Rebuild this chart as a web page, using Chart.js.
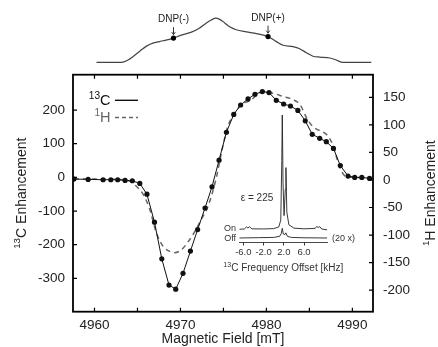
<!DOCTYPE html>
<html>
<head>
<meta charset="utf-8">
<script src="https://cdn.jsdelivr.net/npm/chart.js@4.4.0/dist/chart.umd.min.js"></script>
<style>
  html, body { margin: 0; padding: 0; background: #fff; }
  #wrap { position: relative; width: 438px; height: 347px; }
  canvas { position: absolute; }
</style>
</head>
<body>
<div id="wrap">
  <canvas id="mainChart" width="438" height="347" style="left:0;top:0"></canvas>
  <canvas id="eprChart" width="438" height="70" style="left:0;top:0"></canvas>
  <canvas id="insetChart" width="170" height="170" style="left:200px;top:105px"></canvas>
</div>
<script>
const FONT = '"Liberation Sans", Arial, Helvetica, sans-serif';

// main plot: 13C enhancement (left axis) vs field
const C13_FIELD = [4957.6, 4959.26, 4961.0, 4961.9, 4962.7, 4963.56, 4964.4, 4965.27, 4966.1, 4966.98,
  4967.83, 4968.67, 4969.45, 4970.3, 4971.16, 4972.0, 4972.86, 4973.67, 4974.49, 4975.35,
  4976.2, 4977.0, 4977.86, 4978.67, 4979.53, 4980.3, 4981.15, 4982.0, 4982.8, 4983.66,
  4984.52, 4985.33, 4986.2, 4986.97, 4987.8, 4988.6, 4989.5, 4990.27, 4991.1, 4992.0];
const C13_ENH = [-5, -6, -7, -7, -7, -9, -10, -18, -50, -133,
  -242, -320, -332, -285, -219, -155, -91, -28, 51, 134,
  187, 215, 233, 247, 255, 252, 229, 218, 212, 199,
  168, 128, 116, 106, 86, 35, 4, 0, 0, -3];

// 1H enhancement (right axis)
const H1_FIELD = [4957.6, 4962.7, 4964.1, 4964.9, 4965.7, 4966.4, 4967.2, 4968.0, 4968.8, 4969.3,
  4970.1, 4970.9, 4971.7, 4972.4, 4973.2, 4974.2, 4974.8, 4975.5, 4976.3, 4977.1,
  4978.1, 4979.4, 4980.6, 4981.9, 4983.1, 4983.9, 4984.7, 4985.4, 4986.8, 4987.2,
  4987.8, 4988.5, 4989.3, 4992.3];
const H1_ENH = [2, 1, -2, -12, -27, -52, -96, -121, -130, -132,
  -127, -112, -93, -72, -48, 6, 52, 97, 121, 137,
  144, 159, 158, 152, 146, 137, 112, 97, 85, 79,
  61, 24, 6, 4];

// EPR line above the plot
const EPR_FIELD = [4960.23, 4963.14, 4963.9, 4964.5, 4965.27, 4966.05, 4966.8, 4967.98, 4969.19, 4970.1,
  4971.28, 4972.24, 4973.02, 4973.6, 4974.1, 4974.57, 4975.15, 4975.73, 4976.5, 4977.67,
  4978.84, 4980.19, 4981.16, 4981.93, 4983.1, 4983.87, 4984.65, 4985.42, 4986.2, 4987.36,
  4988.14, 4988.9, 4992.2];
const EPR_SIGNAL = [0, 0, 0.054, 0.134, 0.255, 0.369, 0.436, 0.49, 0.55, 0.617,
  0.685, 0.779, 0.893, 0.96, 1.0, 0.973, 0.893, 0.805, 0.738, 0.691,
  0.651, 0.584, 0.47, 0.389, 0.356, 0.309, 0.221, 0.141, 0.121, 0.101,
  0.054, 0, 0];
const DNP_LABELS = ['DNP(-)', 'DNP(+)'];
const DNP_FIELD = [4969.19, 4980.19];
const DNP_SIGNAL = [0.55, 0.584];

// inset 13C spectra (kHz offset, intensity)
const ON_KHZ = [-6.8, -5.8, -5.4, -5.1, -4.8, -4.3, -2, 0, 1.0, 1.4, 1.6, 1.7, 1.85, 2.05, 2.3, 2.42, 2.6, 3.0, 4, 6, 8.2, 8.5, 8.8, 9.1, 9.5, 10.6];
const ON_INT = [0, 0.3, 2, 1.2, 2.2, 0.4, 0.3, 0.6, 2, 8, 60, 100, 40, 12, 35, 54, 15, 4, 1, 0.4, 0.8, 2.5, 1.6, 2.3, 0.3, -0.5];
const OFF_KHZ = [-6.8, -3, 0, 1.2, 1.5, 1.7, 1.9, 2.2, 2.4, 2.7, 3.5, 6, 10.6];
const OFF_INT = [0, 0.3, 0.5, 1.5, 4, 8.5, 3.5, 3, 4.5, 1.5, 0.5, 0.2, 0];

const X_TICKS = [4960, 4965, 4970, 4975, 4980, 4985, 4990];
const Y_LEFT_TICKS = [-300, -200, -100, 0, 100, 200];
const Y_RIGHT_TICKS = [-200, -150, -100, -50, 0, 50, 100, 150];
const INSET_TICKS = [-6, -2, 2, 6];

const X_MIN = 4957.5, X_MAX = 4992.4;

const toPoints = (xs, ys) => xs.map((x, i) => ({ x, y: ys[i] }));

// text with superscript parts, y is the baseline
function drawRich(ctx, parts, x, y, size, align, color) {
  ctx.save();
  ctx.fillStyle = color;
  ctx.textAlign = 'left';
  ctx.textBaseline = 'alphabetic';
  const widths = parts.map(([t, sup]) => {
    ctx.font = `${sup ? size * 0.7 : size}px ${FONT}`;
    return ctx.measureText(t).width;
  });
  const total = widths.reduce((a, b) => a + b, 0);
  let cx = align === 'center' ? x - total / 2 : align === 'right' ? x - total : x;
  parts.forEach(([t, sup], i) => {
    ctx.font = `${sup ? size * 0.7 : size}px ${FONT}`;
    ctx.fillText(t, cx, sup ? y - size * 0.4 : y);
    cx += widths[i];
  });
  ctx.restore();
}

const frameAndLabels = {
  id: 'frameAndLabels',
  afterDraw(chart) {
    const { ctx, chartArea: a, scales } = chart;
    ctx.save();
    ctx.strokeStyle = '#000';
    ctx.lineWidth = 1.2;
    // inward ticks
    ctx.beginPath();
    X_TICKS.forEach(v => {
      const px = scales.x.getPixelForValue(v);
      ctx.moveTo(px, a.bottom); ctx.lineTo(px, a.bottom - 4);
      ctx.moveTo(px, a.top); ctx.lineTo(px, a.top + 4);
    });
    Y_LEFT_TICKS.forEach(v => {
      const py = scales.y.getPixelForValue(v);
      ctx.moveTo(a.left, py); ctx.lineTo(a.left + 4, py);
    });
    Y_RIGHT_TICKS.forEach(v => {
      const py = scales.y2.getPixelForValue(v);
      ctx.moveTo(a.right, py); ctx.lineTo(a.right - 4, py);
    });
    ctx.stroke();
    ctx.lineWidth = 1.8;
    ctx.strokeRect(a.left, a.top, a.right - a.left, a.bottom - a.top);

    // axis titles
    const midY = (a.top + a.bottom) / 2;
    drawRich(ctx, [['Magnetic Field [mT]', false]], (a.left + a.right) / 2, 343, 14, 'center', '#222');
    ctx.save();
    ctx.translate(25.5, midY);
    ctx.rotate(-Math.PI / 2);
    drawRich(ctx, [['13', true], ['C Enhancement', false]], 0, 0, 14, 'center', '#222');
    ctx.restore();
    ctx.save();
    ctx.translate(435, midY);
    ctx.rotate(-Math.PI / 2);
    drawRich(ctx, [['1', true], ['H Enhancement', false]], 0, 0, 14, 'center', '#222');
    ctx.restore();

    // legend
    drawRich(ctx, [['13', true], ['C', false]], 110.5, 104.5, 14.5, 'right', '#111');
    drawRich(ctx, [['1', true], ['H', false]], 110.5, 122, 14.5, 'right', '#666');
    ctx.lineWidth = 1.4;
    ctx.strokeStyle = '#111';
    ctx.beginPath(); ctx.moveTo(115, 100.3); ctx.lineTo(138, 100.3); ctx.stroke();
    ctx.strokeStyle = '#666';
    ctx.setLineDash([4, 3]);
    ctx.beginPath(); ctx.moveTo(115, 117.5); ctx.lineTo(138, 117.5); ctx.stroke();
    ctx.restore();
  }
};

const tickFont = { family: FONT, size: 13.5 };

const mainChart = new Chart(document.getElementById('mainChart'), {
  type: 'line',
  data: {
    datasets: [{
      label: '13C',
      data: toPoints(C13_FIELD, C13_ENH),
      yAxisID: 'y',
      borderColor: '#111',
      borderWidth: 1,
      pointRadius: 2.6,
      pointBackgroundColor: '#111',
      pointBorderWidth: 0,
      tension: 0
    }, {
      label: '1H',
      data: toPoints(H1_FIELD, H1_ENH),
      yAxisID: 'y2',
      borderColor: '#666',
      borderWidth: 1.5,
      borderDash: [5, 4],
      pointRadius: 0,
      cubicInterpolationMode: 'monotone'
    }]
  },
  options: {
    responsive: false,
    animation: false,
    layout: { padding: { top: 74.7, left: 0, right: 0, bottom: 0 } },
    plugins: { legend: { display: false }, tooltip: { enabled: false } },
    scales: {
      x: {
        type: 'linear',
        min: X_MIN,
        max: X_MAX,
        afterFit: s => { s.height = 35.3; },
        afterBuildTicks: s => { s.ticks = X_TICKS.map(v => ({ value: v })); },
        grid: { display: false, drawTicks: false },
        border: { display: false },
        ticks: {
          autoSkip: false, maxRotation: 0, padding: 5, color: '#222', font: tickFont,
          callback: v => (v % 10 === 0 ? String(v) : '')
        }
      },
      y: {
        position: 'left',
        min: -399,
        max: 305,
        afterFit: s => { s.width = 73; },
        afterBuildTicks: s => { s.ticks = Y_LEFT_TICKS.map(v => ({ value: v })); },
        grid: { display: false, drawTicks: false },
        border: { display: false },
        ticks: { padding: 8, color: '#222', font: tickFont }
      },
      y2: {
        position: 'right',
        min: -239.2,
        max: 191.2,
        afterFit: s => { s.width = 65; },
        afterBuildTicks: s => { s.ticks = Y_RIGHT_TICKS.map(v => ({ value: v })); },
        grid: { display: false, drawTicks: false },
        border: { display: false },
        ticks: { padding: 10, color: '#222', font: tickFont }
      }
    }
  },
  plugins: [frameAndLabels]
});

const area = mainChart.chartArea;

const dnpLabels = {
  id: 'dnpLabels',
  afterDraw(chart) {
    const { ctx, scales } = chart;
    ctx.save();
    DNP_FIELD.forEach((f, i) => {
      const px = scales.x.getPixelForValue(f);
      const py = scales.y.getPixelForValue(DNP_SIGNAL[i]);
      ctx.fillStyle = '#222';
      ctx.font = `10px ${FONT}`;
      ctx.textAlign = 'center';
      ctx.textBaseline = 'middle';
      ctx.fillText(DNP_LABELS[i], px, py - 18.5);
      ctx.strokeStyle = '#222';
      ctx.lineWidth = 0.9;
      ctx.beginPath();
      ctx.moveTo(px, py - 11); ctx.lineTo(px, py - 3.5);
      ctx.moveTo(px - 1.8, py - 6); ctx.lineTo(px, py - 3.5); ctx.lineTo(px + 1.8, py - 6);
      ctx.stroke();
    });
    ctx.restore();
  }
};

new Chart(document.getElementById('eprChart'), {
  type: 'line',
  data: {
    datasets: [{
      data: toPoints(DNP_FIELD, DNP_SIGNAL),
      showLine: false,
      pointRadius: 2.6,
      pointBackgroundColor: '#000',
      pointBorderWidth: 0
    }, {
      data: toPoints(EPR_FIELD, EPR_SIGNAL),
      borderColor: '#444',
      borderWidth: 1.2,
      pointRadius: 0,
      cubicInterpolationMode: 'monotone'
    }]
  },
  options: {
    responsive: false,
    animation: false,
    layout: { padding: { left: area.left, right: 438 - area.right, top: 0, bottom: 0 } },
    plugins: { legend: { display: false }, tooltip: { enabled: false } },
    scales: {
      x: { type: 'linear', display: false, min: X_MIN, max: X_MAX },
      y: { display: false, min: -0.08, max: 1.32 }
    }
  },
  plugins: [dnpLabels]
});

const insetText = {
  id: 'insetText',
  afterDraw(chart) {
    const { ctx, chartArea: a } = chart;
    ctx.save();
    ctx.fillStyle = '#333';
    ctx.textBaseline = 'middle';
    ctx.font = `10px ${FONT}`;
    ctx.textAlign = 'center';
    ctx.fillText('\u03b5 = 225', 57, 93);
    ctx.font = `9px ${FONT}`;
    ctx.textAlign = 'right';
    ctx.fillText('On', 36, 124);
    ctx.fillText('Off', 36, 134);
    ctx.textAlign = 'left';
    ctx.fillText('(20 x)', 132, 134);
    ctx.restore();
    drawRich(ctx, [['13', true], ['C Frequency Offset [kHz]', false]], (a.left + a.right) / 2, 165.5, 10, 'center', '#333');
  }
};

new Chart(document.getElementById('insetChart'), {
  type: 'line',
  data: {
    datasets: [{
      data: toPoints(ON_KHZ, ON_INT),
      yAxisID: 'yOn',
      borderColor: '#222',
      borderWidth: 0.9,
      pointRadius: 0,
      tension: 0
    }, {
      data: toPoints(OFF_KHZ, OFF_INT),
      yAxisID: 'yOff',
      borderColor: '#222',
      borderWidth: 0.9,
      pointRadius: 0,
      tension: 0
    }]
  },
  options: {
    responsive: false,
    animation: false,
    layout: { padding: { left: 39.3, right: 42.7, top: 0, bottom: 0 } },
    plugins: { legend: { display: false }, tooltip: { enabled: false } },
    scales: {
      x: {
        type: 'linear',
        min: -6.8,
        max: 10.6,
        afterFit: s => { s.height = 32.5; },
        afterBuildTicks: s => { s.ticks = INSET_TICKS.map(v => ({ value: v })); },
        grid: { drawOnChartArea: false, tickLength: 3, color: '#333' },
        border: { display: true, color: '#333', width: 0.9 },
        ticks: { padding: 1, color: '#333', font: { family: FONT, size: 9.5 }, callback: v => v.toFixed(1) }
      },
      yOn: { display: false, min: -11.55, max: 108.75 },
      yOff: { display: false, min: -3.94, max: 116.4 }
    }
  },
  plugins: [insetText]
});
</script>
</body>
</html>
